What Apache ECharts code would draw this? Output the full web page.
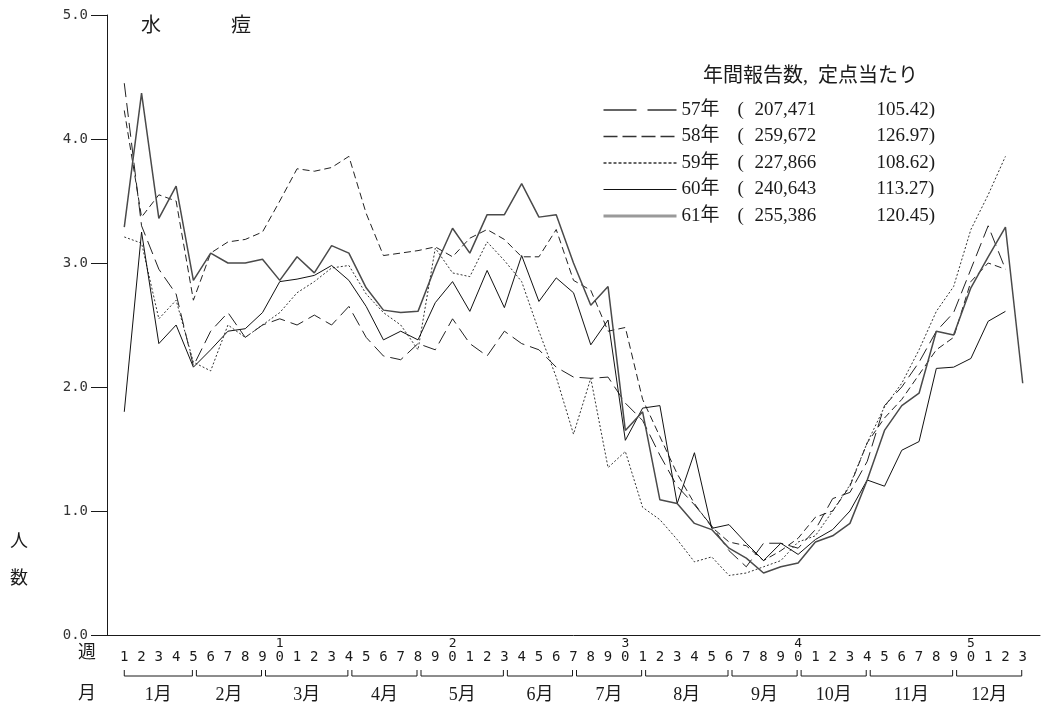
<!DOCTYPE html>
<html>
<head>
<meta charset="utf-8">
<script src="https://cdn.jsdelivr.net/npm/echarts@6/dist/echarts.min.js"></script>
<style>
  html, body { margin: 0; padding: 0; background: #fff; }
  #chart { width: 1044px; height: 718px; }
</style>
</head>
<body>
<div id="chart"></div>
<script>
// Weekly chickenpox reports per sentinel site, Showa 57-61
const weeks = Array.from({ length: 53 }, (_, i) => i + 1);

const s57 = [4.45, 3.30, 2.95, 2.75, 2.17, 2.45, 2.60, 2.40, 2.50, 2.55, 2.50, 2.58, 2.50, 2.65, 2.40, 2.25, 2.22, 2.35, 2.30, 2.55,
             2.35, 2.25, 2.45, 2.35, 2.30, 2.16, 2.08, 2.07, 2.08, 1.87, 1.73, 1.45, 1.20, 1.05, 0.88, 0.68, 0.55, 0.74, 0.74, 0.70,
             0.85, 1.10, 1.15, 1.40, 1.85, 2.00, 2.20, 2.45, 2.60, 2.95, 3.30, 2.95];
const s58 = [4.23, 3.37, 3.55, 3.50, 2.70, 3.08, 3.17, 3.19, 3.25, 3.50, 3.76, 3.74, 3.77, 3.86, 3.40, 3.06, 3.08, 3.10, 3.13, 3.05,
             3.20, 3.27, 3.19, 3.05, 3.05, 3.27, 2.86, 2.78, 2.45, 2.48, 1.90, 1.60, 1.30, 1.06, 0.87, 0.75, 0.72, 0.60, 0.68, 0.78,
             0.95, 1.00, 1.20, 1.55, 1.75, 1.90, 2.10, 2.30, 2.40, 2.85, 3.00, 2.95];
const s59 = [3.21, 3.16, 2.55, 2.70, 2.20, 2.13, 2.50, 2.40, 2.50, 2.60, 2.76, 2.85, 2.96, 2.98, 2.75, 2.60, 2.50, 2.30, 3.12, 2.92,
             2.89, 3.17, 3.02, 2.85, 2.45, 2.08, 1.62, 2.07, 1.35, 1.48, 1.03, 0.93, 0.77, 0.59, 0.63, 0.48, 0.50, 0.55, 0.60, 0.75,
             0.80, 1.00, 1.21, 1.55, 1.84, 2.03, 2.30, 2.61, 2.81, 3.27, 3.55, 3.86];
const s60 = [1.80, 3.25, 2.35, 2.50, 2.16, 2.30, 2.45, 2.47, 2.60, 2.85, 2.87, 2.90, 2.98, 2.86, 2.65, 2.38, 2.45, 2.38, 2.68, 2.85,
             2.61, 2.94, 2.64, 3.06, 2.69, 2.88, 2.76, 2.34, 2.54, 1.57, 1.83, 1.85, 1.06, 1.47, 0.86, 0.89, 0.74, 0.60, 0.74, 0.65,
             0.77, 0.85, 1.00, 1.25, 1.20, 1.49, 1.56, 2.15, 2.16, 2.23, 2.53, 2.61];
const s61 = [3.29, 4.37, 3.36, 3.62, 2.86, 3.08, 3.00, 3.00, 3.03, 2.86, 3.05, 2.92, 3.14, 3.08, 2.80, 2.62, 2.60, 2.61, 2.97, 3.28,
             3.08, 3.39, 3.39, 3.64, 3.37, 3.39, 3.00, 2.66, 2.81, 1.65, 1.80, 1.09, 1.06, 0.90, 0.85, 0.70, 0.62, 0.50, 0.55, 0.58,
             0.75, 0.80, 0.90, 1.25, 1.65, 1.85, 1.95, 2.45, 2.42, 2.80, 3.05, 3.29, 2.03];

// Legend rows: year, annual report count, reports per sentinel
const years = ['57年', '58年', '59年', '60年', '61年'];
const annualTotals = ['207,471', '259,672', '227,866', '240,643', '255,386'];
const perSentinel = ['105.42', '126.97', '108.62', '113.27', '120.45'];

// Month brackets under the week numbers (first and last week of each month)
const months = ['1月', '2月', '3月', '4月', '5月', '6月', '7月', '8月', '9月', '10月', '11月', '12月'];
const monthStart = [1, 5, 9, 14, 18, 23, 27, 31, 36, 40, 44, 49];
const monthEnd = [5, 9, 14, 18, 23, 27, 31, 36, 40, 44, 49, 53];

const yTicks = [0, 1, 2, 3, 4, 5];

const INK = '#1a1a1a';
const SERIF = '"Liberation Serif", "Noto Sans CJK JP", serif';
const MONO = '"DejaVu Sans Mono", "Liberation Mono", monospace';

const values = [s57, s58, s59, s60, s61];
const styles = [
  { color: '#222', width: 1, type: [14, 6] },
  { color: '#222', width: 1, type: [7, 4] },
  { color: '#333', width: 1, type: [2, 2] },
  { color: '#111', width: 1, type: 'solid' },
  { color: '#4a4a4a', width: 1.5, type: 'solid' }
];
// Line samples drawn in the legend key
const legendStyles = [
  { color: '#333', width: 1.6, type: [33, 11] },
  { color: '#333', width: 1.6, type: [14, 5] },
  { color: '#333', width: 1.6, type: [3, 2] },
  { color: '#111', width: 1.2, type: 'solid' },
  { color: '#9a9a9a', width: 3, type: 'solid' }
];

const lineSeries = years.map((name, k) => ({
  name,
  type: 'line',
  xAxisIndex: 0,
  yAxisIndex: 0,
  symbol: 'none',
  showSymbol: false,
  smooth: false,
  silent: true,
  lineStyle: styles[k],
  itemStyle: { color: styles[k].color },
  data: values[k].map((v, i) => [weeks[i], v]),
  z: 3
}));

// Brackets grouping the weeks of each month, with the month name beneath
const bracketSeries = {
  type: 'custom',
  xAxisIndex: 0,
  yAxisIndex: 0,
  clip: false,
  silent: true,
  data: months.map((m, i) => [monthStart[i], monthEnd[i], i]),
  encode: { x: [0, 1] },
  renderItem(params, api) {
    const i = api.value(2);
    const a = api.coord([api.value(0), 0]);
    const b = api.coord([api.value(1), 0]);
    const x1 = a[0] + (i === 0 ? 0 : 3);
    const x2 = b[0] - 1;
    const yb = a[1] + 41;
    const yt = yb - 6;
    return {
      type: 'group',
      children: [
        {
          type: 'polyline',
          shape: { points: [[x1, yt], [x1, yb], [x2, yb], [x2, yt]] },
          style: { stroke: INK, lineWidth: 1, fill: null }
        },
        {
          type: 'text',
          style: {
            text: months[i],
            x: (x1 + x2) / 2,
            y: yb + 19,
            align: 'center',
            verticalAlign: 'middle',
            font: '18px ' + SERIF,
            fill: INK
          }
        }
      ]
    };
  }
};

const legendRich = {
  y: { fontFamily: SERIF, fontSize: 19, color: INK, width: 56, lineHeight: 20 },
  p: { fontFamily: SERIF, fontSize: 19, color: INK, width: 17, lineHeight: 20 },
  t: { fontFamily: SERIF, fontSize: 19, color: INK, width: 122, lineHeight: 20 },
  v: { fontFamily: SERIF, fontSize: 19, color: INK, lineHeight: 20 }
};

const chart = echarts.init(document.getElementById('chart'), null, { renderer: 'canvas' });

chart.setOption({
  backgroundColor: '#fff',
  animation: false,
  grid: { left: 107, right: 4, top: 15, bottom: 83, containLabel: false },
  legend: {
    data: years.map((name, k) => ({ name, lineStyle: legendStyles[k] })),
    orient: 'vertical',
    left: 597,
    top: 95,
    itemWidth: 73,
    itemHeight: 14,
    itemGap: 6.5,
    selectedMode: false,
    itemStyle: { opacity: 0 },
    formatter: name => {
      const k = years.indexOf(name);
      return `{y|${name}}{p|( }{t|${annualTotals[k]}}{v|${perSentinel[k]})}`;
    },
    textStyle: {
      color: INK,
      fontFamily: SERIF,
      fontSize: 19,
      lineHeight: 20,
      rich: legendRich
    }
  },
  graphic: [
    { type: 'text', left: 141, top: 17, style: { text: '水', font: '20px ' + SERIF, fill: INK } },
    { type: 'text', left: 231, top: 17, style: { text: '痘', font: '20px ' + SERIF, fill: INK } },
    { type: 'text', left: 703, top: 67, style: { text: '年間報告数,  定点当たり', font: '20px ' + SERIF, fill: INK } },
    { type: 'text', left: 10, top: 533, style: { text: '人', font: '18px ' + SERIF, fill: INK } },
    { type: 'text', left: 10, top: 570, style: { text: '数', font: '18px ' + SERIF, fill: INK } },
    { type: 'text', left: 78, top: 644, style: { text: '週', font: '18px ' + SERIF, fill: INK } },
    { type: 'text', left: 78, top: 685, style: { text: '月', font: '18px ' + SERIF, fill: INK } }
  ],
  xAxis: [
    {
      type: 'value',
      min: 0,
      max: 54,
      interval: 1,
      position: 'bottom',
      axisLine: { show: true, lineStyle: { color: INK, width: 1 } },
      axisTick: { show: false },
      splitLine: { show: false },
      axisLabel: {
        margin: 15,
        color: INK,
        fontFamily: MONO,
        fontSize: 14,
        formatter: v => (v >= 1 && v <= 53 ? String(v % 10) : '')
      }
    },
    {
      type: 'value',
      min: 0,
      max: 54,
      interval: 1,
      position: 'bottom',
      axisLine: { show: false },
      axisTick: { show: false },
      splitLine: { show: false },
      axisLabel: {
        margin: 2,
        color: INK,
        fontFamily: MONO,
        fontSize: 13,
        formatter: v => (v > 0 && v < 54 && v % 10 === 0 ? String(v / 10) : '')
      }
    }
  ],
  yAxis: {
    type: 'value',
    min: yTicks[0],
    max: yTicks[yTicks.length - 1],
    interval: 1,
    axisLine: { show: true, lineStyle: { color: INK, width: 1 } },
    axisTick: { show: true, length: 16, lineStyle: { color: INK, width: 1 } },
    splitLine: { show: false },
    axisLabel: {
      margin: 19,
      color: '#333',
      fontFamily: MONO,
      fontSize: 14,
      formatter: v => v.toFixed(1)
    }
  },
  series: [...lineSeries, bracketSeries]
});
</script>
</body>
</html>
